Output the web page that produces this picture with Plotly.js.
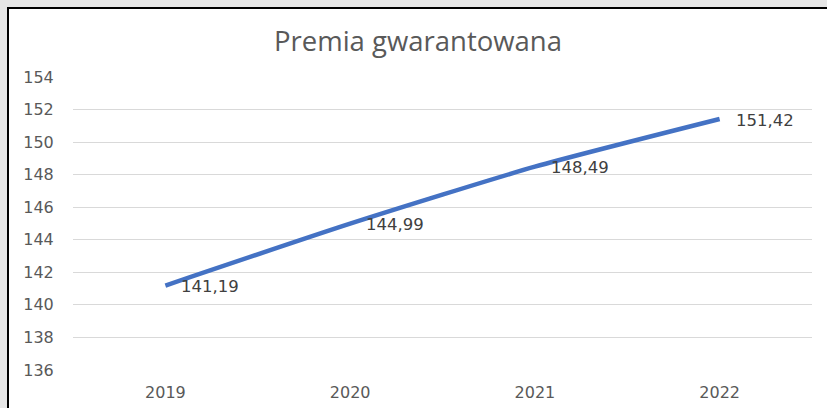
<!DOCTYPE html>
<html>
<head>
<meta charset="utf-8">
<script src="https://cdn.plot.ly/plotly-3.0.1.min.js"></script>
<style>
  html, body { margin: 0; padding: 0; background: #e6e6e6; width: 827px; height: 408px; overflow: hidden; }
  #frame { position: absolute; left: 7px; top: 7px; width: 820px; height: 401px; border-left: 2px solid #000; border-top: 2px solid #000; background: #fff; }
  #chart { width: 818px; height: 399px; }
</style>
</head>
<body>
<div id="frame"><div id="chart"></div></div>
<script>
const years = ["2019", "2020", "2021", "2022"];
const premia = [141.19, 144.99, 148.49, 151.42];
const yTicks = [136, 138, 140, 142, 144, 146, 148, 150, 152, 154];
const chartTitle = "Premia gwarantowana";

const titleFont = "Open Sans, Noto Sans, sans-serif";
const numFont = "DejaVu Sans, sans-serif";

const labels = premia.map(v => v.toFixed(2).replace('.', ','));

const trace = {
  x: years,
  y: premia,
  type: 'scatter',
  mode: 'lines',
  line: { color: '#4472C4', width: 4.5, shape: 'spline', smoothing: 0.6 },
  hoverinfo: 'skip'
};

const annotations = years.map((yr, i) => ({
  x: i, y: premia[i], xref: 'x', yref: 'y',
  text: labels[i], showarrow: false,
  xanchor: 'left', yanchor: 'middle',
  xshift: 14, yshift: -1,
  font: { family: numFont, size: 16.5, color: '#404040' }
}));

const layout = {
  width: 818, height: 399,
  margin: { l: 64, r: 15, t: 68, b: 38 },
  paper_bgcolor: '#ffffff',
  plot_bgcolor: '#ffffff',
  showlegend: false,
  title: {
    text: chartTitle,
    x: 0.5, xanchor: 'center',
    y: 1 - 32 / 399, yanchor: 'middle', yref: 'container',
    font: { family: titleFont, size: 27.5, color: '#595959' }
  },
  xaxis: {
    type: 'category',
    range: [-0.5, 3.5],
    showgrid: false, zeroline: false, showline: false,
    ticks: 'outside', ticklen: 8, tickcolor: 'rgba(0,0,0,0)',
    tickfont: { family: numFont, size: 16, color: '#595959' }
  },
  yaxis: {
    range: [136, 154],
    tickvals: yTicks,
    ticktext: yTicks.map(String),
    showgrid: true, gridcolor: '#d9d9d9', gridwidth: 1,
    zeroline: false, showline: false,
    ticks: 'outside', ticklen: 15, tickcolor: 'rgba(0,0,0,0)',
    tickfont: { family: numFont, size: 16, color: '#595959' }
  },
  annotations: annotations
};

Plotly.newPlot('chart', [trace], layout, { displayModeBar: false, staticPlot: true });
</script>
</body>
</html>
